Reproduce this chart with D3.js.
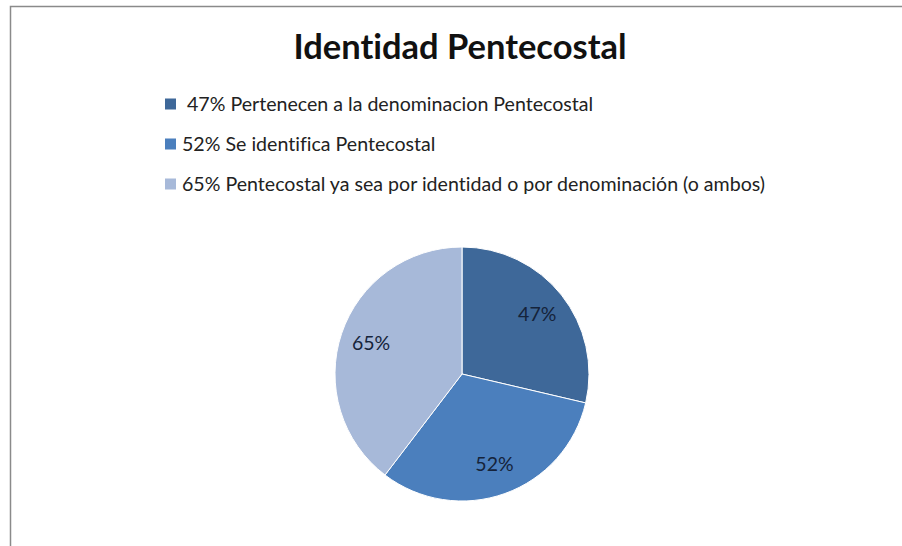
<!DOCTYPE html>
<html>
<head>
<meta charset="utf-8">
<script src="https://cdn.jsdelivr.net/npm/d3@7"></script>
<style>
body{margin:0;background:#fff;}
text{font-family:Lato,"Open Sans",sans-serif;font-variant-ligatures:none;}
</style>
</head>
<body>
<div id="plot"></div>
<script>
var width = 902, height = 546;

// data
var labels = ['47% Pertenecen a la denominacion Pentecostal','52% Se identifica Pentecostal','65% Pentecostal ya sea por identidad o por denominación (o ambos)'];
var values = [47, 52, 65];
var sliceLabels = ['47%','52%','65%'];
var colors = ['#3e6899','#4b7fbd','#a7b9d9'];

var svg = d3.select('#plot')
    .append('svg')
    .attr('width',width)
    .attr('height',height);

// frame
svg.append('path')
    .attr('d','M10.5,'+height+' L10.5,6.5 L'+width+',6.5')
    .attr('fill','none')
    .attr('stroke','#8a8a8a')
    .attr('stroke-width',1.5);

svg.append('text')
    .attr('x',460).attr('y',59)
    .attr('text-anchor','middle')
    .attr('font-size',34.5)
    .attr('font-weight','bold')
    .attr('fill','#111')
    .text('Identidad Pentecostal');

// legend
var legend = svg.selectAll('.legend')
    .data(labels)
    .enter()
    .append('g')
    .attr('class','legend')
    .attr('transform',function(d,i){return 'translate(165,'+(104+i*40)+')';});

legend.append('rect')
    .attr('x',0).attr('y',-5.5)
    .attr('width',11).attr('height',11)
    .attr('fill',function(d,i){return colors[i];});

legend.append('text')
    .attr('x',function(d,i){return i==0?22:17;})
    .attr('y',7)
    .attr('font-size',19.6)
    .attr('fill','#222')
    .text(function(d){return d;});

// pie
var cx = 462, cy = 374, r = 127;
var pie = d3.pie().sort(null).value(function(d){return d;});
var arc = d3.arc().innerRadius(0).outerRadius(r);
var labelArc = d3.arc().innerRadius(96).outerRadius(96);

var g = svg.append('g').attr('transform','translate('+cx+','+cy+')');
var arcs = pie(values);

g.selectAll('path.slice')
    .data(arcs)
    .enter()
    .append('path')
    .attr('class','slice')
    .attr('d',arc)
    .attr('fill',function(d,i){return colors[i];})
    .attr('stroke','#fff')
    .attr('stroke-width',1);

g.selectAll('text.lbl')
    .data(arcs)
    .enter()
    .append('text')
    .attr('class','lbl')
    .attr('transform',function(d){return 'translate('+labelArc.centroid(d)+')';})
    .attr('text-anchor','middle')
    .attr('dy','0.35em')
    .attr('font-size',19.5)
    .attr('fill','#15233a')
    .text(function(d,i){return sliceLabels[i];});
</script>
</body>
</html>
